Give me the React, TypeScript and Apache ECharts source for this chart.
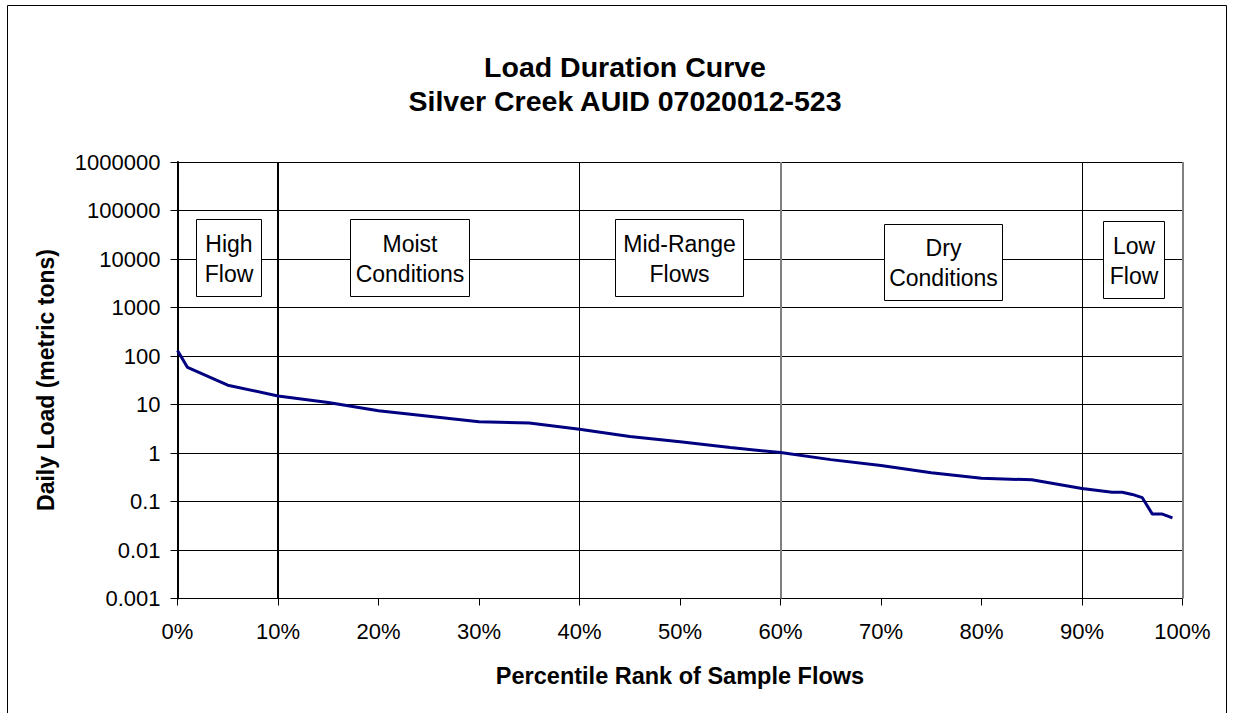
import React, { useEffect, useRef } from "react";
import * as echarts from "echarts";

const percentiles = [0, 1, 5, 10, 15, 20, 25, 30, 35, 40, 45, 50, 55, 60, 65, 70, 75, 80, 85, 90, 92, 93, 94, 95, 96, 97, 98, 99];
const dailyLoad = [130, 58, 25, 15, 11, 7.4, 5.7, 4.4, 4.15, 3.1, 2.2, 1.7, 1.3, 1.02, 0.73, 0.55, 0.39, 0.3, 0.28, 0.185, 0.165, 0.155, 0.155, 0.14, 0.12, 0.055, 0.055, 0.046];
const xTickLabels = ["0%", "10%", "20%", "30%", "40%", "50%", "60%", "70%", "80%", "90%", "100%"];
const yTickLabels = ["0.001", "0.01", "0.1", "1", "10", "100", "1000", "10000", "100000", "1000000"];
const separators = [10, 40, 60, 90, 100];
const regionLabels = ["High\nFlow", "Moist\nConditions", "Mid-Range\nFlows", "Dry\nConditions", "Low\nFlow"];
const titleText = "Load Duration Curve\nSilver Creek AUID 07020012-523";
const xTitle = "Percentile Rank of Sample Flows";
const yTitle = "Daily Load (metric tons)";

const FONT = '"Liberation Sans", Arial, sans-serif';

// annotation box layout [x, y, w, h]
const boxLayout = [
  [196, 219, 65, 77],
  [350, 219, 119, 77],
  [615, 219, 128, 77],
  [884, 224, 118, 76],
  [1103, 221, 61, 77],
];
const sepStyles = [
  { color: "#000", width: 2 },
  { color: "#000", width: 1 },
  { color: "#808080", width: 2 },
  { color: "#000", width: 1 },
  { color: "#808080", width: 2 },
];

export default function App() {
  const ref = useRef<HTMLDivElement>(null);
  useEffect(() => {
    if (!ref.current) return;
    const chart = echarts.init(ref.current, null, { renderer: "svg" });
    const graphics: any[] = [
      {
        type: "rect",
        shape: { x: 7.5, y: 5.5, width: 1219, height: 720 },
        style: { fill: "none", stroke: "#000", lineWidth: 1 },
        z: 1,
      },
      {
        type: "text",
        x: 680,
        y: 676,
        style: { text: xTitle, align: "center", verticalAlign: "middle", fontFamily: FONT, fontSize: 23.5, fontWeight: "bold", fill: "#000" },
        z: 10,
      },
      {
        type: "text",
        x: 46,
        y: 380,
        rotation: Math.PI / 2,
        style: { text: yTitle, align: "center", verticalAlign: "middle", fontFamily: FONT, fontSize: 23, fontWeight: "bold", fill: "#000" },
        z: 10,
      },
    ];
    regionLabels.forEach((label, i) => {
      const [bx, by, bw, bh] = boxLayout[i];
      graphics.push({
        type: "rect",
        shape: { x: bx + 0.5, y: by + 0.5, width: bw, height: bh },
        style: { fill: "#fff", stroke: "#000", lineWidth: 1 },
        z: 100,
      });
      graphics.push({
        type: "text",
        x: bx + bw / 2 + 0.5,
        y: by + bh / 2 + 1,
        style: { text: label, align: "center", verticalAlign: "middle", fontFamily: FONT, fontSize: 23, lineHeight: 30, fill: "#000" },
        z: 101,
      });
    });

    chart.setOption({
      animation: false,
      backgroundColor: "#fff",
      textStyle: { fontFamily: FONT },
      title: {
        text: titleText,
        left: 620,
        top: 45,
        textAlign: "center",
        textStyle: { fontFamily: FONT, fontSize: 28.5, fontWeight: "bold", lineHeight: 34, color: "#000" },
      },
      grid: { left: 177.5, right: 50.5, top: 162, bottom: 114.5, show: false },
      xAxis: {
        type: "value",
        min: 0,
        max: 100,
        interval: 10,
        axisLine: { show: true, onZero: false, lineStyle: { color: "#000", width: 1 } },
        axisTick: { show: true, length: 7, lineStyle: { color: "#000", width: 1 } },
        axisLabel: {
          formatter: (v: number) => xTickLabels[Math.round(v / 10)],
          fontSize: 22,
          color: "#000",
          margin: 22,
          fontFamily: FONT,
        },
        splitLine: { show: false },
      },
      yAxis: {
        type: "log",
        logBase: 10,
        min: 0.001,
        max: 1000000,
        splitNumber: 9,
        axisLine: { show: true, onZero: false, lineStyle: { color: "#000", width: 2 } },
        axisTick: { show: true, length: 7, lineStyle: { color: "#000", width: 1 } },
        axisLabel: {
          formatter: (v: number) => yTickLabels[Math.round(Math.log10(v)) + 3],
          fontSize: 22,
          color: "#000",
          margin: 17,
          fontFamily: FONT,
        },
        splitLine: { show: true, lineStyle: { color: "#000", width: 1 } },
        minorTick: { show: false },
        minorSplitLine: { show: false },
      },
      series: [
        {
          type: "line",
          data: percentiles.map((p, i) => [p, dailyLoad[i]]),
          symbol: "none",
          showSymbol: false,
          lineStyle: { color: "#000080", width: 3 },
          z: 5,
          markLine: {
            silent: true,
            symbol: ["none", "none"],
            label: { show: false },
            data: separators.map((s, i) => ({ xAxis: s, lineStyle: { ...sepStyles[i], type: "solid" } })),
          },
        },
      ],
      graphic: graphics,
    });
    return () => chart.dispose();
  }, []);
  return <div ref={ref} style={{ position: "fixed", left: 0, top: 0, width: 1233, height: 713 }} />;
}
